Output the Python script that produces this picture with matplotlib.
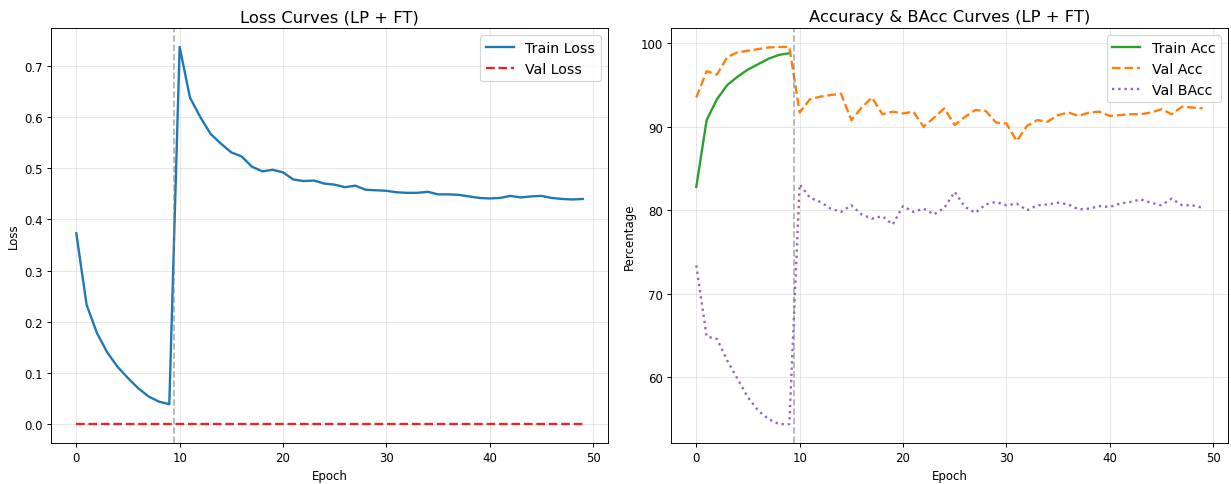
import matplotlib
matplotlib.use("Agg")
import matplotlib.pyplot as plt

epochs = list(range(50))

train_loss = [
    0.373, 0.233, 0.178, 0.140, 0.112, 0.090, 0.070, 0.054, 0.044, 0.039,
    0.737, 0.638, 0.600, 0.567, 0.548, 0.531, 0.523, 0.503, 0.494, 0.497,
    0.492, 0.478, 0.475, 0.476, 0.470, 0.468, 0.463, 0.466, 0.458, 0.457,
    0.456, 0.453, 0.452, 0.452, 0.454, 0.449, 0.449, 0.448, 0.445, 0.442,
    0.441, 0.442, 0.446, 0.443, 0.445, 0.446, 0.442, 0.440, 0.439, 0.440,
]
val_loss = [0.0] * 50

train_acc = [82.8, 90.8, 93.3, 95.0, 96.0, 96.85, 97.5, 98.15, 98.6, 98.8]
val_acc = [
    93.5, 96.65, 96.25, 98.35, 98.9, 99.1, 99.3, 99.5, 99.55, 99.55,
    91.7, 93.3, 93.6, 93.8, 93.95, 90.8, 92.3, 93.5, 91.5, 91.8,
    91.6, 91.8, 90.0, 91.1, 92.2, 90.2, 91.2, 92.0, 91.9, 90.5,
    90.4, 88.3, 90.1, 90.8, 90.6, 91.4, 91.7, 91.3, 91.7, 91.8,
    91.3, 91.4, 91.5, 91.5, 91.7, 92.1, 91.5, 92.4, 92.3, 92.2,
]
val_bacc = [
    73.4, 64.9, 64.6, 62.0, 59.8, 57.6, 56.0, 55.0, 54.4, 54.4,
    83.1, 81.5, 81.0, 80.2, 79.8, 80.6, 79.5, 79.0, 79.3, 78.3,
    80.5, 79.8, 80.2, 79.5, 80.3, 82.2, 80.4, 79.7, 80.7, 81.0,
    80.6, 80.8, 80.0, 80.6, 80.7, 80.9, 80.7, 80.1, 80.2, 80.5,
    80.4, 80.8, 81.0, 81.3, 80.9, 80.6, 81.4, 80.6, 80.6, 80.3,
]
lp_epochs = 10

dpi = 84.5
fig, (ax1, ax2) = plt.subplots(1, 2, figsize=(1231 / dpi, 485 / dpi), dpi=dpi)
fig.subplots_adjust(left=0.0414, right=0.9976, bottom=0.0845, top=0.940, wspace=0.113)

# Loss
ax1.plot(epochs, train_loss, color="#1f77b4", linewidth=2, label="Train Loss")
ax1.plot(epochs, val_loss, color="#e32626", linestyle="--", linewidth=2, label="Val Loss")
ax1.axvline(lp_epochs - 0.5, color="gray", linestyle="--", alpha=0.6)
ax1.set_xlabel("Epoch")
ax1.set_ylabel("Loss")
ax1.set_title("Loss Curves (LP + FT)", fontsize=14)
ax1.legend(fontsize=12, loc="upper right")
ax1.grid(True, alpha=0.3)

# Accuracy
ax2.plot(epochs[:lp_epochs], train_acc, color="#2ca02c", linewidth=2, label="Train Acc")
ax2.plot(epochs, val_acc, color="#ff7f0e", linestyle="--", linewidth=2, label="Val Acc")
ax2.plot(epochs, val_bacc, color="#9467bd", linestyle=":", linewidth=2, label="Val BAcc")
ax2.axvline(lp_epochs - 0.5, color="gray", linestyle="--", alpha=0.6)
ax2.set_xlabel("Epoch")
ax2.set_ylabel("Percentage")
ax2.set_title("Accuracy & BAcc Curves (LP + FT)", fontsize=14)
ax2.legend(fontsize=12, loc="upper right")
ax2.grid(True, alpha=0.3)

fig.savefig("out.png", dpi=dpi)
